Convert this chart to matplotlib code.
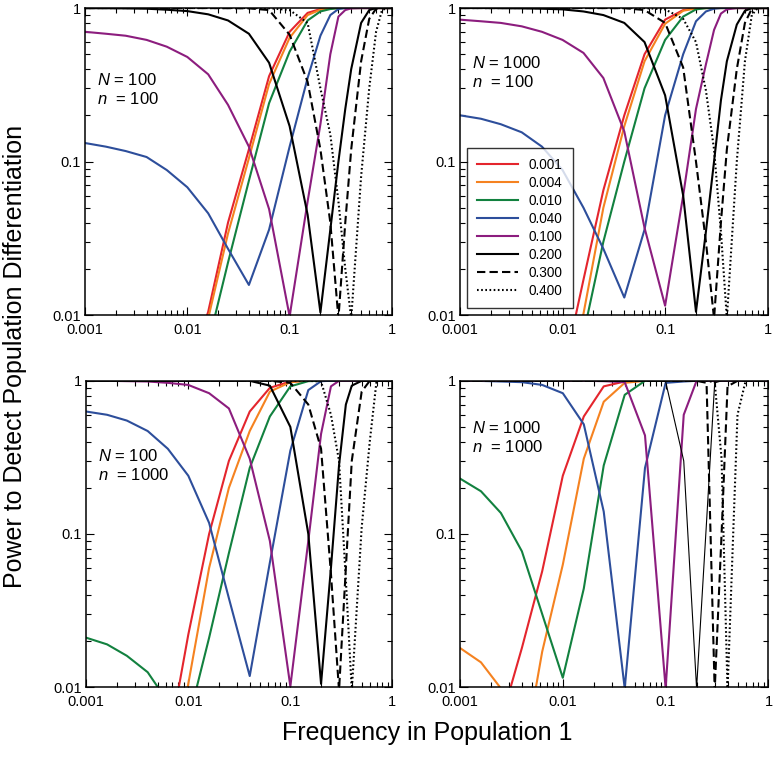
import numpy as np
import matplotlib
matplotlib.use("Agg")
import matplotlib.pyplot as plt

plt.rcParams['font.family'] = ['Liberation Sans', 'DejaVu Sans']
plt.rcParams['mathtext.fontset'] = 'custom'
plt.rcParams['mathtext.it'] = 'Liberation Sans:italic'
plt.rcParams['mathtext.rm'] = 'Liberation Sans'

# frequency in population 1 (sample points of the curves)
freq = [0.001, 0.0016, 0.0025, 0.004, 0.0063, 0.01, 0.016, 0.025, 0.04, 0.063,
        0.1, 0.15, 0.2, 0.25, 0.3, 0.35, 0.4, 0.5, 0.6, 0.7, 0.8, 0.9, 1.0]

# frequency in population 2 (legend)
p2_labels = ["0.001", "0.004", "0.010", "0.040", "0.100", "0.200", "0.300", "0.400"]

# panel A: N = 100, n = 100
a_001 = [0.0005, 0.0006, 0.0008, 0.0012, 0.002, 0.004, 0.0105, 0.04, 0.12, 0.36, 0.70, 0.93, 0.985, 0.998, 1, 1, 1, 1, 1, 1, 1, 1, 1]
a_004 = [0.0008, 0.0008, 0.0007, 0.0006, 0.0009, 0.003, 0.0095, 0.034, 0.105, 0.32, 0.64, 0.90, 0.975, 0.995, 1, 1, 1, 1, 1, 1, 1, 1, 1]
a_010 = [0.002, 0.002, 0.0018, 0.0015, 0.0012, 0.002, 0.0065, 0.022, 0.075, 0.24, 0.52, 0.83, 0.95, 0.985, 0.998, 1, 1, 1, 1, 1, 1, 1, 1]
a_040 = [0.132, 0.125, 0.117, 0.107, 0.088, 0.068, 0.046, 0.027, 0.0157, 0.036, 0.125, 0.35, 0.66, 0.90, 0.985, 1, 1, 1, 1, 1, 1, 1, 1]
a_100 = [0.70, 0.68, 0.66, 0.62, 0.56, 0.48, 0.37, 0.234, 0.125, 0.049, 0.0098, 0.055, 0.175, 0.5, 0.88, 0.97, 0.995, 1, 1, 1, 1, 1, 1]
a_200 = [0.998, 0.997, 0.995, 0.99, 0.975, 0.955, 0.91, 0.83, 0.68, 0.44, 0.17, 0.045, 0.0104, 0.036, 0.1, 0.22, 0.4, 0.8, 0.97, 1, 1, 1, 1]
a_300 = [1, 1, 1, 1, 1, 1, 0.999, 0.998, 0.995, 0.97, 0.67, 0.33, 0.12, 0.04, 0.0095, 0.04, 0.12, 0.45, 0.85, 0.99, 1, 1, 1]
a_400 = [1, 1, 1, 1, 1, 1, 1, 1, 1, 0.998, 0.97, 0.8, 0.3, 0.15, 0.055, 0.02, 0.0095, 0.08, 0.3, 0.7, 0.97, 1, 1]

# panel B: N = 1000, n = 100
b_001 = [0.0005, 0.0006, 0.0008, 0.0012, 0.002, 0.004, 0.017, 0.065, 0.2, 0.5, 0.84, 0.97, 1, 1, 1, 1, 1, 1, 1, 1, 1, 1, 1]
b_004 = [0.0008, 0.0008, 0.0007, 0.0006, 0.0009, 0.0025, 0.0102, 0.05, 0.17, 0.45, 0.79, 0.96, 0.995, 1, 1, 1, 1, 1, 1, 1, 1, 1, 1]
b_010 = [0.002, 0.002, 0.0018, 0.0015, 0.0012, 0.002, 0.0075, 0.03, 0.1, 0.3, 0.62, 0.88, 0.98, 0.998, 1, 1, 1, 1, 1, 1, 1, 1, 1]
b_040 = [0.2, 0.19, 0.175, 0.155, 0.125, 0.088, 0.05, 0.027, 0.013, 0.036, 0.2, 0.5, 0.82, 0.95, 0.99, 1, 1, 1, 1, 1, 1, 1, 1]
b_100 = [0.84, 0.82, 0.80, 0.76, 0.70, 0.62, 0.51, 0.35, 0.157, 0.037, 0.0115, 0.06, 0.22, 0.43, 0.72, 0.92, 0.98, 1, 1, 1, 1, 1, 1]
b_200 = [1, 1, 0.998, 0.995, 0.99, 0.98, 0.95, 0.9, 0.8, 0.6, 0.27, 0.06, 0.0105, 0.035, 0.1, 0.25, 0.45, 0.78, 0.96, 0.998, 1, 1, 1]
b_300 = [1, 1, 1, 1, 1, 1, 1, 0.999, 0.998, 0.97, 0.8, 0.41, 0.1, 0.03, 0.0095, 0.04, 0.12, 0.4, 0.8, 0.99, 1, 1, 1]
b_400 = [1, 1, 1, 1, 1, 1, 1, 1, 1, 0.999, 0.98, 0.85, 0.6, 0.29, 0.12, 0.035, 0.0095, 0.1, 0.45, 0.9, 1, 1, 1]

# panel C: N = 100, n = 1000
c_001 = [0.0005, 0.0005, 0.0006, 0.001, 0.004, 0.022, 0.1, 0.3, 0.63, 0.9, 0.99, 1, 1, 1, 1, 1, 1, 1, 1, 1, 1, 1, 1]
c_004 = [0.0008, 0.0007, 0.0006, 0.0005, 0.002, 0.0105, 0.06, 0.2, 0.47, 0.85, 0.98, 1, 1, 1, 1, 1, 1, 1, 1, 1, 1, 1, 1]
c_010 = [0.021, 0.019, 0.016, 0.0125, 0.008, 0.006, 0.021, 0.075, 0.27, 0.585, 0.92, 0.995, 1, 1, 1, 1, 1, 1, 1, 1, 1, 1, 1]
c_040 = [0.63, 0.6, 0.55, 0.47, 0.36, 0.24, 0.118, 0.038, 0.0118, 0.065, 0.35, 0.87, 0.995, 1, 1, 1, 1, 1, 1, 1, 1, 1, 1]
c_100 = [1, 1, 0.995, 0.99, 0.97, 0.94, 0.83, 0.66, 0.31, 0.09, 0.0101, 0.09, 0.45, 0.92, 1, 1, 1, 1, 1, 1, 1, 1, 1]
c_200 = [1, 1, 1, 1, 1, 1, 1, 1, 1, 0.93, 0.5, 0.1, 0.0105, 0.06, 0.28, 0.7, 0.93, 1, 1, 1, 1, 1, 1]
c_300 = [1, 1, 1, 1, 1, 1, 1, 1, 1, 1, 0.97, 0.7, 0.36, 0.055, 0.0095, 0.06, 0.3, 0.85, 1, 1, 1, 1, 1]
c_400 = [1, 1, 1, 1, 1, 1, 1, 1, 1, 1, 1, 1, 0.99, 0.6, 0.3, 0.05, 0.0095, 0.11, 0.4, 1, 1, 1, 1]

# panel D: N = 1000, n = 1000
d_001 = [0.005, 0.004, 0.006, 0.018, 0.057, 0.24, 0.585, 0.92, 0.99, 1, 1, 1, 1, 1, 1, 1, 1, 1, 1, 1, 1, 1, 1]
d_004 = [0.018, 0.0145, 0.0098, 0.003, 0.017, 0.063, 0.31, 0.73, 0.97, 1, 1, 1, 1, 1, 1, 1, 1, 1, 1, 1, 1, 1, 1]
d_010 = [0.23, 0.19, 0.137, 0.077, 0.03, 0.0115, 0.044, 0.28, 0.81, 1, 1, 1, 1, 1, 1, 1, 1, 1, 1, 1, 1, 1, 1]
d_040 = [1, 0.998, 0.99, 0.98, 0.94, 0.83, 0.52, 0.14, 0.0098, 0.27, 0.97, 0.99, 1, 1, 1, 1, 1, 1, 1, 1, 1, 1, 1]
d_100 = [1, 1, 1, 1, 1, 1, 1, 0.995, 0.98, 0.44, 0.0098, 0.6, 1, 1, 1, 1, 1, 1, 1, 1, 1, 1, 1]
d_200 = [1, 1, 1, 1, 1, 1, 1, 1, 1, 1, 0.99, 0.3, 0.0098, 0.12, 0.97, 1, 1, 1, 1, 1, 1, 1, 1]
d_300 = [1, 1, 1, 1, 1, 1, 1, 1, 1, 1, 1, 1, 1, 0.97, 0.0095, 0.1, 0.92, 1, 1, 1, 1, 1, 1]
d_400 = [1, 1, 1, 1, 1, 1, 1, 1, 1, 1, 1, 1, 1, 1, 0.98, 0.31, 0.0095, 0.6, 1, 1, 1, 1, 1]

panels = [
    ("100", "100", [a_001, a_004, a_010, a_040, a_100, a_200, a_300, a_400]),
    ("1000", "100", [b_001, b_004, b_010, b_040, b_100, b_200, b_300, b_400]),
    ("100", "1000", [c_001, c_004, c_010, c_040, c_100, c_200, c_300, c_400]),
    ("1000", "1000", [d_001, d_004, d_010, d_040, d_100, d_200, d_300, d_400]),
]

colors = ['#E4252D', '#F58220', '#12813F', '#2D4E9B', '#8C1D7E', 'black', 'black', 'black']
styles = ['-', '-', '-', '-', '-', '-', (0, (4, 2)), (0, (0.8, 1.2))]

# axes boxes in figure fractions [left, bottom, width, height]
boxes = [
    [0.1094, 0.5844, 0.395, 0.405],
    [0.5920, 0.5844, 0.396, 0.405],
    [0.1110, 0.0936, 0.394, 0.404],
    [0.5920, 0.0936, 0.397, 0.404],
]
text_y = [0.765, 0.82, 0.753, 0.847]

fig = plt.figure(figsize=(7.77, 7.58), dpi=100)

for k, (N, n, series) in enumerate(panels):
    ax = fig.add_axes(boxes[k])
    for i, ys in enumerate(series):
        lw = 1.5
        if k == 3 and i == 5:
            lw = 0.8
        ax.plot(freq, ys, color=colors[i], linestyle=styles[i], linewidth=lw,
                label=p2_labels[i])
    ax.set_xscale('log')
    ax.set_yscale('log')
    ax.set_xlim(0.001, 1)
    ax.set_ylim(0.01, 1)
    ax.set_xticks([0.001, 0.01, 0.1, 1], ["0.001", "0.01", "0.1", "1"])
    ax.set_yticks([0.01, 0.1, 1], ["0.01", "0.1", "1"])
    ax.tick_params(which='both', direction='in', top=True, right=True,
                   labelsize=10.5, width=0.8)
    ax.tick_params(which='major', length=6)
    ax.tick_params(which='minor', length=3.5)
    ax.tick_params(axis='x', pad=6)
    ax.tick_params(axis='y', pad=3)
    for sp in ax.spines.values():
        sp.set_linewidth(1.1)
    ax.text(0.04, text_y[k], r"$\mathit{N}$ = " + N, transform=ax.transAxes,
            fontsize=12, va='center')
    ax.text(0.04, text_y[k] - 0.062, r"$\mathit{n}$  = " + n, transform=ax.transAxes,
            fontsize=12, va='center')
    if k == 1:
        leg = ax.legend(loc='lower left', bbox_to_anchor=(0.023, 0.023), fontsize=9.8,
                        frameon=True, fancybox=False, edgecolor='black',
                        handlelength=3.0, labelspacing=0.29, borderpad=0.75,
                        handletextpad=0.8, borderaxespad=0)
        leg.get_frame().set_linewidth(1.0)

fig.text(0.019, 0.53, "Power to Detect Population Differentiation", rotation=90,
         fontsize=18, ha='center', va='center')
fig.text(0.55, 0.033, "Frequency in Population 1", fontsize=18,
         ha='center', va='center')

fig.savefig("out.png", dpi=100)
